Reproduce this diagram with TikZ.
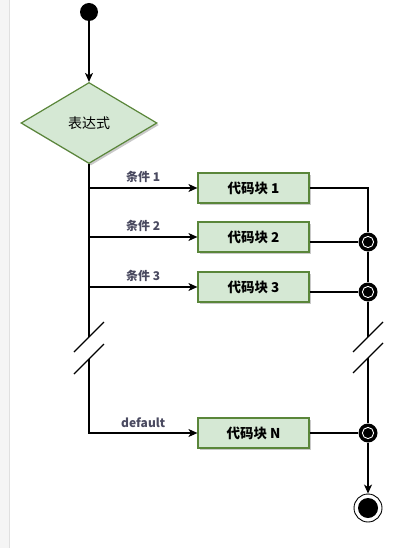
\documentclass[tikz,border=0pt]{standalone}
\usepackage{fontspec}
\setmainfont{Noto Sans CJK SC}
\usetikzlibrary{arrows.meta,positioning,shapes.geometric,shadows}
\definecolor{blockfill}{RGB}{213,232,212}
\definecolor{blockedge}{RGB}{90,134,58}
\definecolor{condtext}{RGB}{74,74,96}
\definecolor{sidegray}{RGB}{245,245,245}
\begin{document}
\begin{tikzpicture}[x=1pt,y=-1pt,
    flow/.style={line width=1.1pt,-{Stealth[length=9pt,width=8pt,inset=2.5pt]}},
    wire/.style={line width=1.1pt},
    greenshape/.style={fill=blockfill,draw=blockedge,line width=1.2pt,
      drop shadow={shadow xshift=2pt,shadow yshift=-2pt,fill=black!30,opacity=0.7}},
    codeblock/.style={greenshape,rectangle,minimum width=111pt,minimum height=30pt,
      inner sep=0pt,font=\fontsize{13.5}{14}\selectfont\bfseries},
    decision/.style={greenshape,diamond,minimum width=136pt,minimum height=81pt,
      inner sep=0pt,font=\fontsize{14}{15}\selectfont},
    condlabel/.style={above=1pt,text=condtext,font=\fontsize{12}{13}\selectfont\bfseries},
    startdot/.style={circle,fill=black,minimum size=18pt,inner sep=0pt},
    junction/.style={circle,fill=black,minimum size=19pt,inner sep=0pt,
      path picture={\draw[white,line width=0.9pt] (path picture bounding box.center) circle (5.6pt);}},
    endstate/.style={circle,draw,fill=white,line width=0.9pt,minimum size=28pt,inner sep=0pt,
      path picture={\fill[black] (path picture bounding box.center) circle (10pt);}},
    breakmark/.style={line width=1.1pt}]
  \useasboundingbox (0,0) rectangle (404,548);
  \fill[sidegray] (0,0) rectangle (9,548);
  \draw[black!12] (9.5,0) -- (9.5,548);

  % nodes
  \node[startdot] (start) at (89,12) {};
  \node[decision] (expr) at (89,123) {表达式};
  \node[codeblock] (b1) at (253.5,188) {代码块 1};
  \node[codeblock] (b2) at (253.5,237) {代码块 2};
  \node[codeblock] (b3) at (253.5,287) {代码块 3};
  \node[codeblock] (bN) at (253.5,433) {代码块 N};
  \coordinate (c1) at (368,188);
  \node[junction] (j2) at (368,242) {};
  \node[junction] (j3) at (368,292) {};
  \node[junction] (jN) at (368,433) {};
  \node[endstate] (stop) at (368,508) {};
  \coordinate (la) at (89,337);
  \coordinate (lb) at (89,359);
  \coordinate (ra) at (368,337);
  \coordinate (rb) at (368,358);

  % left trunk and branches
  \draw[flow] (start) -- (expr);
  \draw[wire] (expr.south) -- (la);
  \draw[flow] (expr.south |- b1) -- node[condlabel] {条件 1} (b1);
  \draw[flow] (expr.south |- b2) -- node[condlabel] {条件 2} (b2);
  \draw[flow] (expr.south |- b3) -- node[condlabel] {条件 3} (b3);
  \draw[flow] (lb) |- node[condlabel,pos=0.75] {default} (bN);

  % right side merge
  \draw[wire] (b1) -- (c1) -- (j2);
  \draw[wire] (b2.east |- j2) -- (j2);
  \draw[wire] (b3.east |- j3) -- (j3);
  \draw[wire] (bN) -- (jN);
  \draw[wire] (j2) -- (j3);
  \draw[wire] (j3) -- (ra);
  \draw[wire] (rb) -- (jN);
  \draw[flow] (jN) -- (stop);

  % break marks
  \foreach \p in {la,lb,ra,rb}
    \draw[breakmark] ([shift={(-15,15)}]\p) -- ([shift={(15,-15)}]\p);
\end{tikzpicture}
\end{document}
